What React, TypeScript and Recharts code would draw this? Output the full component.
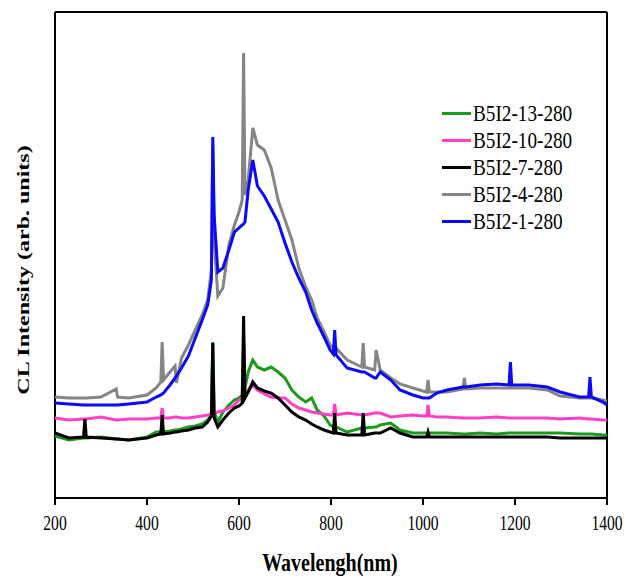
import React from 'react';
import { LineChart, Line, XAxis, YAxis, Legend, ReferenceLine } from 'recharts';

// wavelength sampling (nm), shared by all five spectra
const wavelength = [
  200, 230, 262, 265, 268, 300, 333, 336, 360, 400,
  420, 430, 433, 436, 450, 461, 464, 475, 490, 505,
  520, 532, 540, 543, 546, 554, 565, 578, 590, 600,
  607, 610, 613, 620, 630, 640, 655, 670, 685, 700,
  715, 730, 745, 758, 770, 785, 798, 805, 808, 811,
  835, 867, 870, 873, 895, 898, 907, 930, 950, 978,
  1000, 1008, 1011, 1014, 1030, 1052, 1087, 1090, 1093, 1124,
  1160, 1187, 1190, 1193, 1230, 1270, 1298, 1340, 1360, 1363,
  1366, 1391, 1400,
];

// CL intensity, arb. units
const b5i2_13 = [
  62, 58, 60, 60, 60, 61, 59, 59, 58, 61,
  66, 66, 66, 66, 67, 68, 68, 69, 71, 72,
  74, 78, 84, 156, 86, 76, 86, 93, 98, 100,
  103, 158, 110, 126, 138, 131, 128, 131, 126, 120,
  108, 101, 96, 100, 88, 82, 73, 71, 71, 71,
  66, 70, 70, 70, 71, 71, 73, 75, 68, 65,
  65, 65, 65, 65, 65, 65, 64, 64, 64, 65,
  64, 65, 65, 65, 65, 65, 65, 64, 64, 64,
  64, 63, 63,
];

const b5i2_10 = [
  80, 78, 79, 79, 79, 81, 78, 78, 79, 79,
  80, 80, 90, 80, 80, 81, 81, 80, 80, 81,
  82, 83, 84, 84, 85, 86, 87, 90, 93, 98,
  100, 102, 103, 108, 113, 108, 104, 101, 100, 100,
  94, 90, 88, 86, 85, 84, 83, 83, 94, 83,
  85, 83, 83, 83, 85, 85, 85, 81, 82, 83,
  82, 82, 93, 82, 81, 81, 80, 80, 80, 80,
  81, 80, 80, 80, 80, 80, 79, 80, 79, 79,
  79, 78, 78,
];

const b5i2_7 = [
  65, 60, 61, 79, 61, 60, 59, 59, 58, 60,
  63, 64, 83, 64, 65, 66, 66, 67, 68, 70,
  71, 76, 82, 155, 80, 71, 78, 85, 90, 92,
  95, 182, 100, 106, 116, 110, 107, 105, 100, 93,
  86, 81, 78, 74, 71, 68, 66, 65, 85, 65,
  63, 63, 85, 63, 65, 65, 65, 70, 65, 61,
  61, 61, 66, 61, 61, 61, 61, 61, 61, 61,
  61, 61, 61, 61, 61, 61, 60, 60, 60, 60,
  60, 60, 60,
];

const b5i2_4 = [
  101, 100, 100, 100, 100, 101, 109, 101, 100, 103,
  110, 116, 156, 118, 126, 132, 115, 140, 153, 168,
  183, 198, 228, 353, 258, 202, 210, 253, 273, 286,
  298, 445, 303, 318, 370, 353, 348, 330, 298, 278,
  258, 230, 211, 198, 180, 166, 153, 150, 150, 150,
  138, 131, 155, 131, 128, 148, 128, 120, 114, 110,
  107, 106, 118, 106, 106, 106, 109, 120, 109, 110,
  110, 110, 110, 110, 110, 108, 102, 100, 100, 100,
  100, 98, 97,
];

const b5i2_1 = [
  95, 94, 93, 93, 93, 93, 93, 93, 94, 96,
  101, 103, 104, 105, 113, 120, 122, 130, 142, 160,
  178, 193, 218, 361, 283, 226, 230, 248, 266, 270,
  273, 274, 276, 308, 338, 312, 302, 289, 276, 255,
  236, 220, 206, 188, 175, 161, 148, 144, 168, 143,
  130, 126, 126, 126, 120, 120, 126, 118, 108, 103,
  100, 100, 100, 100, 105, 108, 111, 111, 111, 113,
  114, 113, 136, 113, 113, 111, 106, 101, 101, 121,
  101, 96, 93,
];

const seriesNames = ['B5I2-13-280', 'B5I2-10-280', 'B5I2-7-280', 'B5I2-4-280', 'B5I2-1-280'];
const seriesColors = ['#1c9a1c', '#ff40c8', '#000000', '#858585', '#0a0af5'];
const seriesValues = [b5i2_13, b5i2_10, b5i2_7, b5i2_4, b5i2_1];

const xTicks = [200, 400, 600, 800, 1000, 1200, 1400];
const xDomain = [200, 1400];
const yDomain = [0, 486];

const data = wavelength.map((w, i) => {
  const row: Record<string, number> = { w };
  seriesValues.forEach((vals, k) => {
    row['s' + k] = vals[i];
  });
  return row;
});

const FONT = '"Liberation Serif", "Times New Roman", serif';

const XTick = (props: any) => {
  const { x, y, payload } = props;
  return (
    <text
      transform={`translate(${x},${y + 23}) scale(0.78,1)`}
      textAnchor="middle"
      fontFamily={FONT}
      fontSize={20}
      fill="#000"
    >
      {payload.value}
    </text>
  );
};

const LegendBox = (props: any) => {
  // keep the order of the original legend, not the alphabetical one
  const items = [...(props.payload || [])].sort(
    (a: any, b: any) => seriesNames.indexOf(a.value) - seriesNames.indexOf(b.value)
  );
  return (
    <div style={{ fontFamily: FONT }}>
      {items.map((p: any) => (
        <div key={p.value} style={{ display: 'flex', alignItems: 'center', height: 27 }}>
          <div style={{ width: 29, height: 3, background: p.color }} />
          <span
            style={{
              display: 'inline-block',
              marginLeft: 2,
              fontSize: 24,
              lineHeight: '27px',
              whiteSpace: 'nowrap',
              transform: 'scaleX(0.8)',
              transformOrigin: 'left center',
              color: '#000',
            }}
          >
            {p.value}
          </span>
        </div>
      ))}
    </div>
  );
};

const frame = { stroke: '#000', strokeWidth: 2, ifOverflow: 'visible' as const };

export default function App() {
  return (
    <div style={{ position: 'absolute', left: 0, top: 0, width: 626, height: 578, background: '#fff' }}>
      <LineChart width={626} height={578} data={data} margin={{ top: 12, right: 19, left: 55, bottom: 0 }}>
        <XAxis
          dataKey="w"
          type="number"
          domain={xDomain}
          ticks={xTicks}
          interval={0}
          height={80}
          tickSize={7}
          tick={<XTick />}
          axisLine={{ stroke: '#000', strokeWidth: 2 }}
          tickLine={{ stroke: '#000', strokeWidth: 2 }}
        />
        <YAxis yAxisId="l" domain={yDomain} hide />
        <ReferenceLine yAxisId="l" x={xDomain[0]} {...frame} />
        <ReferenceLine yAxisId="l" x={xDomain[1]} {...frame} />
        <ReferenceLine yAxisId="l" y={yDomain[1]} {...frame} />
        <Legend
          layout="horizontal"
          verticalAlign="middle"
          align="center"
          content={<LegendBox />}
          wrapperStyle={{ left: 442, top: 100, width: 170, height: 140 }}
        />
        {seriesNames.map((name, k) => (
          <Line
            key={name}
            name={name}
            dataKey={'s' + k}
            yAxisId="l"
            type="linear"
            stroke={seriesColors[k]}
            strokeWidth={3}
            dot={false}
            legendType="plainline"
            isAnimationActive={false}
          />
        ))}
      </LineChart>
      <div
        style={{
          position: 'absolute',
          left: 24,
          top: 270,
          transform: 'translate(-50%, -50%) rotate(-90deg) scaleY(0.68)',
          fontFamily: FONT,
          fontWeight: 'bold',
          fontSize: 24,
          whiteSpace: 'nowrap',
          color: '#000',
        }}
      >
        CL Intensity (arb. units)
      </div>
      <div
        style={{
          position: 'absolute',
          left: 330,
          top: 563,
          transform: 'translate(-50%, -50%) scaleX(0.8)',
          fontFamily: FONT,
          fontWeight: 'bold',
          fontSize: 25,
          whiteSpace: 'nowrap',
          color: '#000',
        }}
      >
        Wavelengh(nm)
      </div>
    </div>
  );
}
